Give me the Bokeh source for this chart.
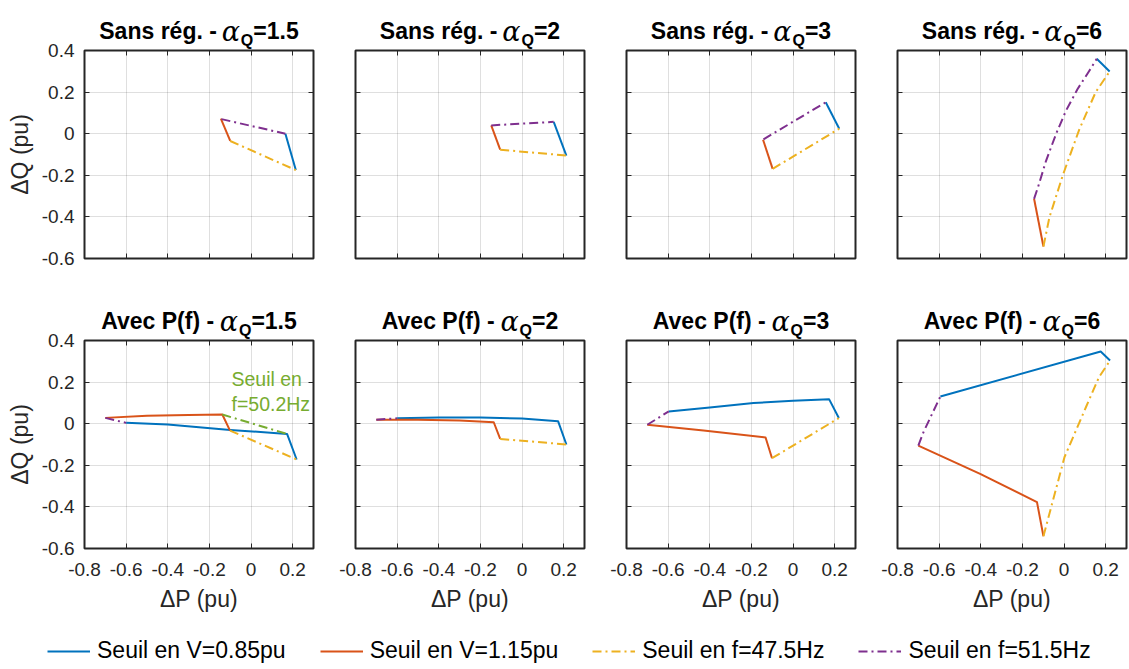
import numpy as np
from bokeh.plotting import figure
from bokeh.models import (Range1d, FixedTicker, LinearAxis, Label, Legend,
                          LegendItem, CustomJSTickFormatter, CustomLabelingPolicy)
from bokeh.layouts import column, row
from bokeh.embed import file_html
from bokeh.resources import INLINE

# ------------------------------------------------------------------ texts
X_TICKS = [-0.8, -0.6, -0.4, -0.2, 0.0, 0.2]
X_TICK_LABELS = ["-0.8", "-0.6", "-0.4", "-0.2", "0", "0.2"]
Y_TICKS = [-0.6, -0.4, -0.2, 0.0, 0.2, 0.4]
Y_TICK_LABELS = ["-0.6", "-0.4", "-0.2", "0", "0.2", "0.4"]
X_LABEL = "ΔP (pu)"
Y_LABEL = "ΔQ (pu)"
ROW_TITLES = ["Sans rég. -", "Avec P(f) -"]
ALPHA_Q = ["=1.5", "=2", "=3", "=6"]
SERIES_NAMES = ["Seuil en V=0.85pu", "Seuil en V=1.15pu",
                "Seuil en f=47.5Hz", "Seuil en f=51.5Hz"]
ANNOT_LINES = ["Seuil en", "f=50.2Hz"]
ANNOT_X = [-0.094, -0.094]
ANNOT_Y = [0.216, 0.095]

# ------------------------------------------------------------------ data
# Sans régulation, alpha_Q = 1.5
sans15_v085_dp = [0.165, 0.215]
sans15_v085_dq = [0.000, -0.175]
sans15_v115_dp = [-0.145, -0.100]
sans15_v115_dq = [0.072, -0.035]
sans15_f475_dp = [-0.100, 0.215]
sans15_f475_dq = [-0.035, -0.175]
sans15_f515_dp = [-0.142, 0.165]
sans15_f515_dq = [0.070, 0.000]

# Sans régulation, alpha_Q = 2
sans2_v085_dp = [0.152, 0.213]
sans2_v085_dq = [0.057, -0.105]
sans2_v115_dp = [-0.148, -0.105]
sans2_v115_dq = [0.040, -0.077]
sans2_f475_dp = [-0.105, 0.213]
sans2_f475_dq = [-0.077, -0.105]
sans2_f515_dp = [-0.148, 0.152]
sans2_f515_dq = [0.040, 0.057]

# Sans régulation, alpha_Q = 3
sans3_v085_dp = [0.157, 0.222]
sans3_v085_dq = [0.151, 0.024]
sans3_v115_dp = [-0.144, -0.098]
sans3_v115_dq = [-0.029, -0.169]
sans3_f475_dp = [-0.098, 0.222]
sans3_f475_dq = [-0.169, 0.024]
sans3_f515_dp = [-0.142, 0.157]
sans3_f515_dq = [-0.027, 0.151]

# Sans régulation, alpha_Q = 6
sans6_v085_dp = [0.157, 0.219]
sans6_v085_dq = [0.360, 0.299]
sans6_v115_dp = [-0.144, -0.099]
sans6_v115_dq = [-0.313, -0.542]
sans6_f475_dp = [-0.099, -0.070, -0.006, 0.073, 0.152, 0.219]
sans6_f475_dq = [-0.542, -0.401, -0.200, 0.020, 0.200, 0.299]
sans6_f515_dp = [-0.144, -0.125, -0.086, -0.038, 0.010, 0.065, 0.120, 0.157]
sans6_f515_dq = [-0.313, -0.257, -0.129, 0.000, 0.112, 0.215, 0.300, 0.360]

# Avec P(f), alpha_Q = 1.5
avec15_v085_dp = [-0.600, -0.400, -0.100, 0.173, 0.219]
avec15_v085_dq = [0.004, -0.004, -0.030, -0.049, -0.172]
avec15_v115_dp = [-0.700, -0.500, -0.300, -0.138, -0.101]
avec15_v115_dq = [0.028, 0.038, 0.042, 0.044, -0.033]
avec15_f475_dp = [-0.101, 0.219]
avec15_f475_dq = [-0.033, -0.172]
avec15_f515_dp = [-0.700, -0.600]
avec15_f515_dq = [0.028, 0.004]
avec15_f502_dp = [-0.138, 0.173]
avec15_f502_dq = [0.044, -0.049]

# Avec P(f), alpha_Q = 2
avec2_v085_dp = [-0.600, -0.400, -0.200, 0.000, 0.173, 0.213]
avec2_v085_dq = [0.026, 0.030, 0.030, 0.025, 0.012, -0.100]
avec2_v115_dp = [-0.700, -0.500, -0.300, -0.136, -0.105]
avec2_v115_dq = [0.019, 0.019, 0.015, 0.007, -0.073]
avec2_f475_dp = [-0.105, 0.213]
avec2_f475_dq = [-0.073, -0.100]
avec2_f515_dp = [-0.700, -0.600]
avec2_f515_dq = [0.019, 0.026]

# Avec P(f), alpha_Q = 3
avec3_v085_dp = [-0.597, -0.400, -0.190, 0.000, 0.173, 0.220]
avec3_v085_dq = [0.059, 0.078, 0.099, 0.110, 0.118, 0.027]
avec3_v115_dp = [-0.700, -0.430, -0.132, -0.101]
avec3_v115_dq = [-0.005, -0.033, -0.066, -0.166]
avec3_f475_dp = [-0.101, 0.220]
avec3_f475_dq = [-0.166, 0.027]
avec3_f515_dp = [-0.700, -0.597]
avec3_f515_dq = [-0.005, 0.059]

# Avec P(f), alpha_Q = 6
avec6_v085_dp = [-0.594, 0.176, 0.221]
avec6_v085_dq = [0.131, 0.347, 0.304]
avec6_v115_dp = [-0.700, -0.403, -0.130, -0.099]
avec6_v115_dq = [-0.105, -0.241, -0.377, -0.541]
avec6_f475_dp = [-0.099, 0.002, 0.105, 0.168, 0.221]
avec6_f475_dq = [-0.541, -0.161, 0.079, 0.224, 0.304]
avec6_f515_dp = [-0.700, -0.675, -0.649, -0.594]
avec6_f515_dq = [-0.105, -0.040, 0.015, 0.131]

# ------------------------------------------------------------------ styles
COLORS = ["#0072BD", "#D95319", "#EDB120", "#7E2F8E"]
GREEN = "#77AC30"
DASHES = ["solid", "solid", "9 4 2 4", "9 4 2 4"]
LW = 2
FONT = "Liberation Sans"
AX_COLOR = "#262626"
FRAME_W, FRAME_H = 229, 208
LEFTS = [84, 21, 21, 21]
RIGHTS = [21, 21, 21, 2]
TITLE_H = [50, 46]      # title strip, down to the frame top
OVERLAP = 12            # plot canvas starts this far above its frame
BOTTOM_B = [36, 70]

PANELS = [
    [
        [(sans15_v085_dp, sans15_v085_dq), (sans15_v115_dp, sans15_v115_dq),
         (sans15_f475_dp, sans15_f475_dq), (sans15_f515_dp, sans15_f515_dq)],
        [(sans2_v085_dp, sans2_v085_dq), (sans2_v115_dp, sans2_v115_dq),
         (sans2_f475_dp, sans2_f475_dq), (sans2_f515_dp, sans2_f515_dq)],
        [(sans3_v085_dp, sans3_v085_dq), (sans3_v115_dp, sans3_v115_dq),
         (sans3_f475_dp, sans3_f475_dq), (sans3_f515_dp, sans3_f515_dq)],
        [(sans6_v085_dp, sans6_v085_dq), (sans6_v115_dp, sans6_v115_dq),
         (sans6_f475_dp, sans6_f475_dq), (sans6_f515_dp, sans6_f515_dq)],
    ],
    [
        [(avec15_v085_dp, avec15_v085_dq), (avec15_v115_dp, avec15_v115_dq),
         (avec15_f475_dp, avec15_f475_dq), (avec15_f515_dp, avec15_f515_dq)],
        [(avec2_v085_dp, avec2_v085_dq), (avec2_v115_dp, avec2_v115_dq),
         (avec2_f475_dp, avec2_f475_dq), (avec2_f515_dp, avec2_f515_dq)],
        [(avec3_v085_dp, avec3_v085_dq), (avec3_v115_dp, avec3_v115_dq),
         (avec3_f475_dp, avec3_f475_dq), (avec3_f515_dp, avec3_f515_dq)],
        [(avec6_v085_dp, avec6_v085_dq), (avec6_v115_dp, avec6_v115_dq),
         (avec6_f475_dp, avec6_f475_dq), (avec6_f515_dp, avec6_f515_dq)],
    ],
]

# Arial/Liberation Sans Bold advance widths (per 1000 em) for title layout
BOLD_W = {'S': 667, 'a': 556, 'n': 611, 's': 556, ' ': 278, 'r': 389, 'é': 556,
          'g': 611, '.': 278, '-': 333, 'A': 722, 'v': 556, 'e': 556, 'c': 556,
          'P': 667, '(': 333, 'f': 333, ')': 333, '=': 584, '1': 556, '5': 556,
          '2': 556, '3': 556, '6': 556, 'Q': 778}


def tw(s, size):
    return sum(BOLD_W.get(ch, 556) for ch in s) * size / 1000.0


def fmt(tvals, tlabels):
    return CustomJSTickFormatter(args=dict(tvals=tvals, tlabels=tlabels), code="""
        for (let i = 0; i < tvals.length; i++) {
            if (Math.abs(tvals[i] - tick) < 1e-9) { return tlabels[i]; }
        }
        return "";
    """)


def style_axis(ax, show_labels, standoff):
    ax.axis_line_color = None
    ax.major_tick_in = 5
    ax.major_tick_out = 0
    ax.minor_tick_in = 0
    ax.minor_tick_out = 0
    ax.major_tick_line_color = AX_COLOR
    ax.major_tick_line_width = 1
    ax.major_label_text_font = FONT
    ax.major_label_text_color = AX_COLOR
    if show_labels:
        ax.major_label_text_font_size = "19px"
        ax.major_label_standoff = standoff
    else:
        ax.major_label_text_font_size = "0px"
        ax.major_label_standoff = 0
        ax.axis_label_standoff = 0
        ax.major_label_policy = CustomLabelingPolicy(code="return [];")


def title_fig(c, r, suffix):
    w = LEFTS[c] + FRAME_W + RIGHTS[c]
    h = TITLE_H[r]
    tf = figure(width=w, height=h, x_range=Range1d(0, w), y_range=Range1d(0, h),
                x_axis_type=None, y_axis_type=None, min_border=0,
                toolbar_location=None, output_backend="svg", title=None)
    tf.outline_line_color = None
    tf.grid.visible = False
    t_size, q_size = 23, 16
    main = ROW_TITLES[r]
    w_main = tw(main, t_size)
    w_q = tw("Q", q_size)
    w_suf = tw(suffix, t_size)
    gap, w_alpha = 4, 20
    total = w_main + gap + w_alpha + w_q + w_suf
    x0 = LEFTS[c] + FRAME_W / 2 - total / 2
    base = 19.3
    common = dict(x_units="screen", y_units="screen", text_baseline="alphabetic",
                  text_color="#000000")
    tf.add_layout(Label(x=x0, y=base, text=main, text_font=FONT,
                        text_font_style="bold", text_font_size="23px",
                        text_align="left", **common))
    tf.add_layout(Label(x=x0 + w_main + gap + w_alpha / 2, y=base, text="α",
                        text_font="DejaVu Serif", text_font_style="italic",
                        text_font_size="27px", text_align="center", **common))
    tf.add_layout(Label(x=x0 + w_main + gap + w_alpha, y=base - 9.3, text="Q",
                        text_font=FONT, text_font_style="bold",
                        text_font_size="16px", text_align="left", **common))
    tf.add_layout(Label(x=x0 + w_main + gap + w_alpha + w_q, y=base, text=suffix,
                        text_font=FONT, text_font_style="bold",
                        text_font_size="23px", text_align="left", **common))
    return tf


def panel_fig(c, r):
    p = figure(frame_width=FRAME_W, frame_height=FRAME_H,
               min_border_left=LEFTS[c], min_border_right=RIGHTS[c],
               min_border_top=OVERLAP, min_border_bottom=BOTTOM_B[r],
               x_range=Range1d(-0.8, 0.3), y_range=Range1d(-0.6, 0.4),
               toolbar_location=None, output_backend="svg", title=None)
    p.outline_line_color = AX_COLOR
    p.outline_line_width = 2
    p.border_fill_alpha = 0

    xt = FixedTicker(ticks=X_TICKS)
    yt = FixedTicker(ticks=Y_TICKS)
    p.xaxis.ticker = xt
    p.yaxis.ticker = yt
    p.xaxis.formatter = fmt(X_TICKS, X_TICK_LABELS)
    p.yaxis.formatter = fmt(Y_TICKS, Y_TICK_LABELS)
    p.xgrid.ticker = xt
    p.ygrid.ticker = yt
    for g in (p.xgrid, p.ygrid):
        g.grid_line_color = AX_COLOR
        g.grid_line_alpha = 0.15
        g.grid_line_width = 1

    for ax in p.xaxis:
        style_axis(ax, r == 1, 14)
        if r == 1:
            ax.axis_label = X_LABEL
            ax.axis_label_text_font = FONT
            ax.axis_label_text_font_size = "23px"
            ax.axis_label_text_font_style = "normal"
            ax.axis_label_text_color = AX_COLOR
            ax.axis_label_standoff = 7
    for ax in p.yaxis:
        style_axis(ax, c == 0, 10)
        if c == 0:
            ax.axis_label = Y_LABEL
            ax.axis_label_text_font = FONT
            ax.axis_label_text_font_size = "23px"
            ax.axis_label_text_font_style = "normal"
            ax.axis_label_text_color = AX_COLOR
            ax.axis_label_standoff = 6

    top_ax = LinearAxis(ticker=xt)
    style_axis(top_ax, False, 0)
    p.add_layout(top_ax, "above")
    right_ax = LinearAxis(ticker=yt)
    style_axis(right_ax, False, 0)
    p.add_layout(right_ax, "right")

    for k, (dp, dq) in enumerate(PANELS[r][c]):
        p.line(dp, dq, line_color=COLORS[k], line_width=LW,
               line_dash=DASHES[k], line_join="round")
    if r == 1 and c == 0:
        p.line(avec15_f502_dp, avec15_f502_dq, line_color=GREEN,
               line_width=LW, line_dash="9 4 2 4", line_join="round")
        for txt, ax_, ay_ in zip(ANNOT_LINES, ANNOT_X, ANNOT_Y):
            p.add_layout(Label(x=ax_, y=ay_, text=txt, text_font=FONT,
                               text_font_size="19.5px", text_color=GREEN,
                               text_baseline="middle", text_align="left"))
    return p


rows = []
for r in range(2):
    rows.append(row(*[title_fig(c, r, ALPHA_Q[c]) for c in range(4)]))
    rows.append(row(*[panel_fig(c, r) for c in range(4)],
                    margin=(-OVERLAP, 0, 0, 0)))

# ------------------------------------------------------------------ legend
LEG_W, LEG_H = 1128, 50
lf = figure(width=LEG_W, height=LEG_H, x_axis_type=None, y_axis_type=None,
            x_range=Range1d(0, 1), y_range=Range1d(0, 1), min_border=0,
            toolbar_location=None, output_backend="svg", title=None)
lf.outline_line_color = None
lf.grid.visible = False
items = []
for k, name in enumerate(SERIES_NAMES):
    rr = lf.line(np.array([np.nan]), np.array([np.nan]), line_color=COLORS[k],
                 line_width=LW, line_dash=DASHES[k])
    items.append(LegendItem(label=name, renderers=[rr]))
leg = Legend(items=items, orientation="horizontal", location=(47, 4),
             glyph_width=43, glyph_height=20, label_standoff=7, spacing=34,
             padding=0, margin=0, border_line_color=None,
             background_fill_alpha=0, label_text_font=FONT,
             label_text_font_size="23px", label_text_color="#000000")
lf.add_layout(leg, "center")
rows.append(lf)

layout = column(*rows)
open("out.html", "w").write(file_html(layout, INLINE))
